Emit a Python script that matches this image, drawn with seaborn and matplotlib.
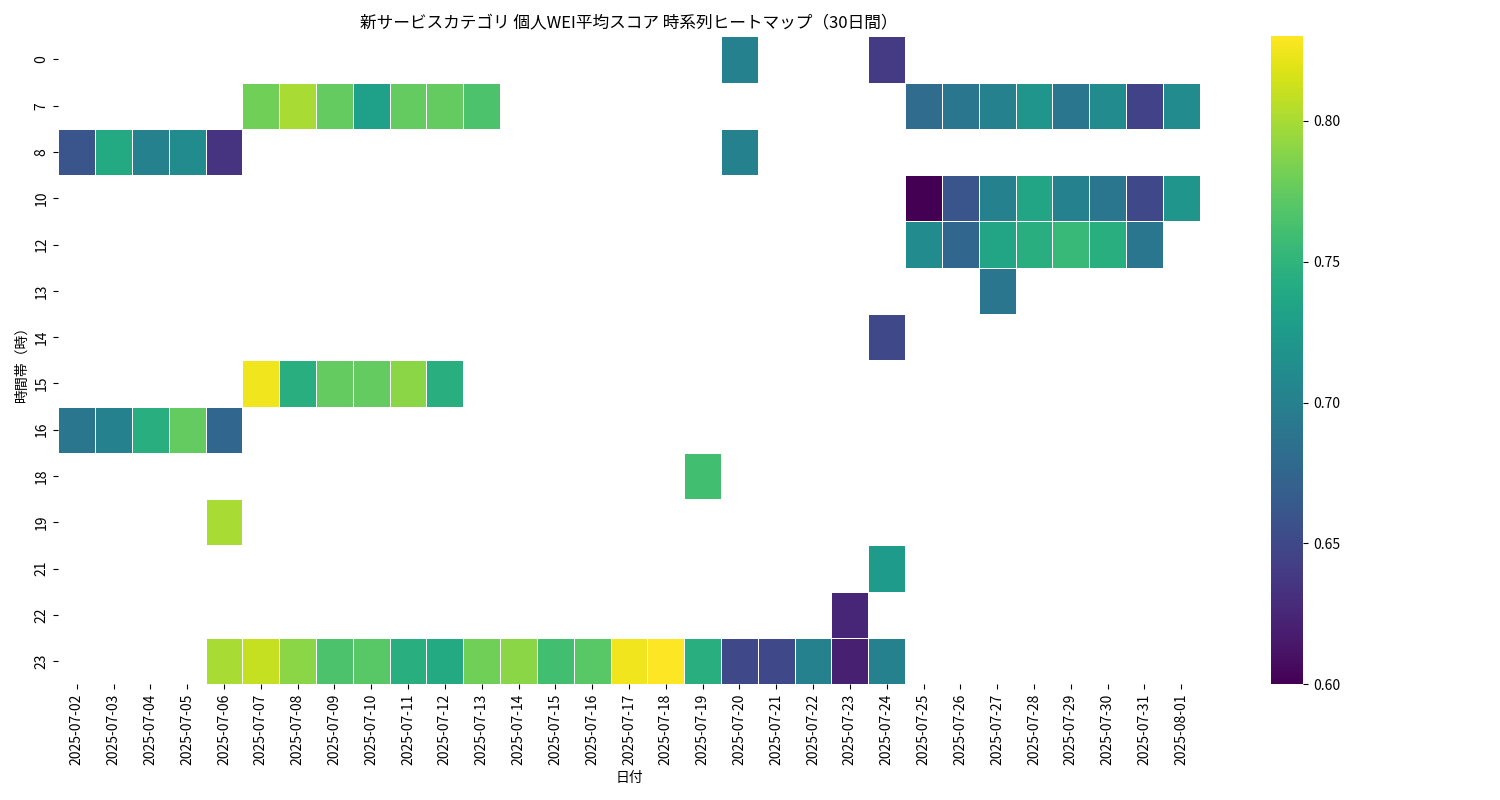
import numpy as np
import pandas as pd
import matplotlib.pyplot as plt
import seaborn as sns

plt.rcParams['font.family'] = 'Noto Sans CJK JP'

dates = pd.date_range('2025-07-02', '2025-08-01').strftime('%Y-%m-%d').tolist()
hours = [0, 7, 8, 10, 12, 13, 14, 15, 16, 18, 19, 21, 22, 23]

# (hour, column index, score)
cells = {
    0: {18: 0.70, 22: 0.64},
    7: {5: 0.78, 6: 0.80, 7: 0.775, 8: 0.73, 9: 0.775, 10: 0.775, 11: 0.765,
        23: 0.68, 24: 0.69, 25: 0.70, 26: 0.72, 27: 0.69, 28: 0.71, 29: 0.645, 30: 0.71},
    8: {0: 0.66, 1: 0.74, 2: 0.70, 3: 0.71, 4: 0.635, 18: 0.70},
    10: {23: 0.60, 24: 0.66, 25: 0.70, 26: 0.735, 27: 0.70, 28: 0.69, 29: 0.65, 30: 0.72},
    12: {23: 0.71, 24: 0.675, 25: 0.735, 26: 0.745, 27: 0.755, 28: 0.745, 29: 0.69},
    13: {25: 0.69},
    14: {22: 0.65},
    15: {5: 0.825, 6: 0.745, 7: 0.775, 8: 0.775, 9: 0.79, 10: 0.745},
    16: {0: 0.69, 1: 0.70, 2: 0.745, 3: 0.775, 4: 0.675},
    18: {17: 0.76},
    19: {4: 0.80},
    21: {22: 0.725},
    22: {21: 0.625},
    23: {4: 0.80, 5: 0.81, 6: 0.79, 7: 0.765, 8: 0.77, 9: 0.745, 10: 0.74, 11: 0.78,
         12: 0.79, 13: 0.76, 14: 0.77, 15: 0.825, 16: 0.83, 17: 0.745, 18: 0.65,
         19: 0.65, 20: 0.70, 21: 0.62, 22: 0.70},
}

grid = pd.DataFrame(np.nan, index=hours, columns=dates)
for h, row in cells.items():
    for c, v in row.items():
        grid.loc[h, dates[c]] = v

fig, ax = plt.subplots(figsize=(15, 8))
sns.heatmap(grid, cmap='viridis', linewidths=0.5, linecolor='white', ax=ax,
            vmin=0.60, vmax=0.83)
ax.set_title('新サービスカテゴリ 個人WEI平均スコア 時系列ヒートマップ（30日間）')
ax.set_xlabel('日付')
ax.set_ylabel('時間帯（時）')
plt.tight_layout()
plt.savefig('out.png', dpi=100)
